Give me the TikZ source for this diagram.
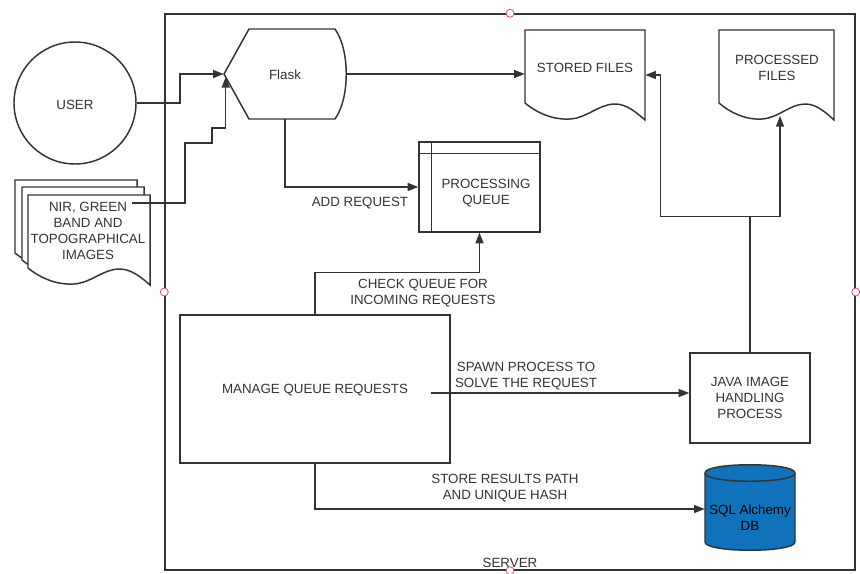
\documentclass[tikz,border=0pt]{standalone}
\usepackage{fontspec}
\setmainfont{Liberation Sans}
\usetikzlibrary{arrows.meta,calc}
\definecolor{ink}{RGB}{51,51,51}
\definecolor{dbblue}{RGB}{16,114,186}
\definecolor{portred}{RGB}{226,74,98}
\begin{document}
\begin{tikzpicture}[x=0.75pt,y=-0.75pt,
  font=\fontsize{10}{12}\selectfont,
  line/.style={draw=ink, line width=1.1pt},
  flow/.style={line, -{Triangle[length=8pt,width=6pt]}},
  txt/.style={text=ink, align=center, inner sep=0pt, yshift=-1.3pt},
  box/.style={line, rectangle, inner sep=0pt},
  holder/.style={rectangle, inner sep=0pt},
  port/.style={circle, draw=portred, fill=white, line width=0.6pt, minimum size=6pt, inner sep=0pt},
  page/.style={draw=ink, line width=1.1pt, fill=white},
]
\useasboundingbox (0,0) rectangle (860,574);

% document outline with a wavy lower edge, 120 wide and 90 high
\def\docpath{(0,73) .. controls (12,83) and (28,90) .. (45,89)
  .. controls (62,88) and (74,74) .. (90,74)
  .. controls (102,74) and (112,83) .. (120,90) -- (120,0) -- (0,0) -- cycle}

% server frame
\node[box, minimum width=517.5pt, minimum height=417pt] (server) at (510,292) {};
\node[txt] (srvlabel) at (510,561) {SERVER};

% user
\node[box, circle, minimum size=91.5pt] (user) at (75,103) {};
\node[txt] (usertxt) at (75,103) {USER};

% stack of image pages
\begin{scope}[shift={(15,180)}, xscale=1.017]
  \path[page] \docpath;
\end{scope}
\begin{scope}[shift={(22,187)}, xscale=1.017]
  \path[page] \docpath;
\end{scope}
\begin{scope}[shift={(28,195)}, xscale=1.017]
  \path[page] \docpath;
\end{scope}
\node[txt] (images) at (88,229) {NIR, GREEN\\BAND AND\\TOPOGRAPHICAL\\IMAGES};
\coordinate (nirout) at (132,203);

% flask
\draw[line] (224,74) -- (249,29) -- (335,29)
  .. controls (350,50) and (350,98) .. (335,119) -- (249,119) -- cycle;
\node[holder, minimum width=91.5pt, minimum height=67.5pt] (flask) at (285,74) {};
\node[txt] (flasktxt) at (285,73) {Flask};

% stored files
\begin{scope}[shift={(525,30)}]
  \path[page] \docpath;
\end{scope}
\node[holder, minimum width=90pt, minimum height=67.5pt] (stored) at (585,75) {};
\node[txt] (storedtxt) at (585,66) {STORED FILES};

% processed files
\begin{scope}[shift={(719,30)}, xscale=0.9583]
  \path[page] \docpath;
\end{scope}
\node[holder, minimum width=86.25pt, minimum height=67.5pt] (processed) at (776.5,75) {};
\node[txt] (processedtxt) at (777,66) {PROCESSED\\FILES};
\coordinate (procin) at (780,116);

% processing queue
\node[box, minimum width=90.75pt, minimum height=67.5pt] (queue) at (479.5,187) {};
\draw[line] ([yshift=-9pt]queue.north west) -- ([yshift=-9pt]queue.north east);
\draw[line] ([xshift=9.75pt]queue.north west) -- ([xshift=9.75pt]queue.south west);
\node[txt] (queuetxt) at (486,191) {PROCESSING\\QUEUE};

% queue manager
\node[box, minimum width=202.5pt, minimum height=111pt] (manage) at (315,389) {};
\node[txt] (managetxt) at (315,388) {MANAGE QUEUE REQUESTS};

% java worker
\node[box, minimum width=90pt, minimum height=67.5pt] (java) at (750,398) {};
\node[txt] (javatxt) at (750,396) {JAVA IMAGE\\HANDLING\\PROCESS};

% database cylinder
\path[fill=dbblue, draw=ink, line width=1.1pt] (705,473) -- (705,542)
  .. controls (705,553) and (795,553) .. (795,542) -- (795,473)
  .. controls (795,462) and (705,462) .. (705,473) -- cycle;
\draw[line] (705,473) .. controls (705,484) and (795,484) .. (795,473);
\node[holder, minimum width=67.5pt, minimum height=63.75pt] (db) at (750,509) {};
\node[txt, text=black] (dbtxt) at (750,516) {SQL Alchemy\\DB};

% connectors
\draw[flow] (user.east) -- (180,103) |- (flask.west);
\draw[flow] (nirout) -| (185,143) -| (212,128) -| ([xshift=1.5pt,yshift=-2.25pt]flask.west);
\draw[flow] (flask.east) -- (flask.east -| stored.west);
\draw[flow] (flask.south) |- (queue.west);
\node[txt] (addlbl) at (360,201) {ADD REQUEST};

\draw[flow] (manage.north) -- ++(0,-42) -| (queue.south);
\node[txt] (checklbl) at (423,291) {CHECK QUEUE FOR\\INCOMING REQUESTS};

\coordinate (spawn) at ([xshift=-15pt,yshift=-3pt]manage.east);
\draw[flow] (spawn) -- (spawn -| java.west);
\node[txt] (spawnlbl) at (526,374) {SPAWN PROCESS TO\\SOLVE THE REQUEST};

\draw[flow] (manage.south) |- (db.west);
\node[txt] (storelbl) at (505,486) {STORE RESULTS PATH\\AND UNIQUE HASH};

\coordinate (split) at ([yshift=102pt]java.north);
\draw[line] (java.north) -- (split);
\draw[flow] (split) -| ([xshift=11.25pt]stored.east) -- (stored.east);
\draw[flow] (split) -| (procin);

% connection points on the server frame
\node[port] (pn) at (server.north) {};
\node[port] (ps) at (server.south) {};
\node[port] (pw) at (server.west) {};
\node[port] (pe) at (server.east) {};
\end{tikzpicture}
\end{document}
